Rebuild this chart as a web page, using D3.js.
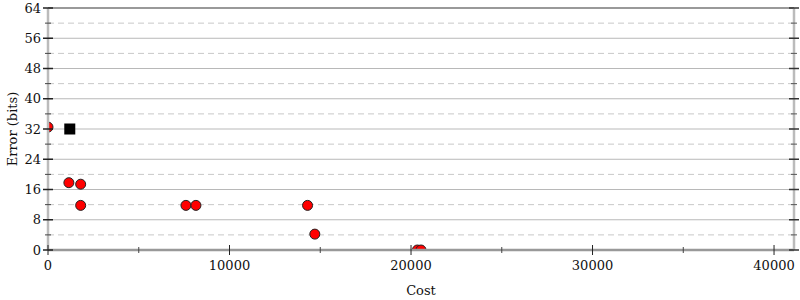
<!DOCTYPE html>
<html>
<head>
<meta charset="utf-8">
<script src="https://cdn.jsdelivr.net/npm/d3@7"></script>
<style>
  body { margin: 0; background: #fff; }
  text { font-family: "DejaVu Serif", serif; }
</style>
</head>
<body>
<div id="chart"></div>
<script>
// data
var costs  = [0, 1150, 1800, 1800, 7600, 8150, 14300, 14700, 20350, 20550];
var errors = [32.5, 17.8, 17.4, 11.8, 11.8, 11.8, 11.8, 4.2, 0, 0];
var targetCost = [1200];
var targetError = [32];
var xTicks = [0, 10000, 20000, 30000, 40000];
var xMinor = [5000, 15000, 25000, 35000];
var yTicks = [0, 8, 16, 24, 32, 40, 48, 56, 64];
var yMinor = [4, 12, 20, 28, 36, 44, 52, 60];

var w = 800, h = 300;
var margin = {top: 8, right: 6, bottom: 50, left: 48};
var iw = w - margin.left - margin.right;
var ih = h - margin.top - margin.bottom;

var x = d3.scaleLinear().domain([0, 41100]).range([0, iw]);
var y = d3.scaleLinear().domain([0, 64]).range([ih, 0]);

var svg = d3.select('#chart').append('svg')
    .attr('width', w)
    .attr('height', h);

var g = svg.append('g')
    .attr('transform', 'translate(' + margin.left + ',' + margin.top + ')');

svg.append('clipPath').attr('id', 'clip')
    .append('rect').attr('x', 0).attr('y', 0).attr('width', iw).attr('height', ih);

// grid
g.selectAll('.minor-grid').data(yMinor).enter().append('line')
    .attr('x1', 0).attr('x2', iw)
    .attr('y1', d => y(d)).attr('y2', d => y(d))
    .attr('stroke', '#c8c8c8').attr('stroke-dasharray', '6,4');

g.selectAll('.major-grid').data(yTicks.filter(d => d > 0 && d < 64)).enter().append('line')
    .attr('x1', 0).attr('x2', iw)
    .attr('y1', d => y(d)).attr('y2', d => y(d))
    .attr('stroke', d => d === 32 ? '#dcdcdc' : '#b8b8b8')
    .attr('stroke-width', d => d === 32 ? 2 : 1);

// frame
g.append('line').attr('x1', 0).attr('x2', iw).attr('y1', 0).attr('y2', 0)
    .attr('stroke', '#999').attr('stroke-width', 2);

// points
var pts = g.append('g').attr('clip-path', 'url(#clip)');
pts.selectAll('circle').data(costs).enter().append('circle')
    .attr('cx', d => x(d))
    .attr('cy', (d, i) => y(errors[i]))
    .attr('r', 5)
    .attr('fill', '#f00')
    .attr('stroke', '#222')
    .attr('stroke-width', 1);

pts.selectAll('rect').data(targetCost).enter().append('rect')
    .attr('x', d => x(d) - 5.5)
    .attr('y', (d, i) => y(targetError[i]) - 5.5)
    .attr('width', 11).attr('height', 11)
    .attr('fill', '#000');

// axes lines
g.append('line').attr('x1', 0).attr('x2', iw).attr('y1', ih).attr('y2', ih)
    .attr('stroke', '#999').attr('stroke-width', 2.5);
g.append('line').attr('x1', 0).attr('x2', 0).attr('y1', 0).attr('y2', ih)
    .attr('stroke', '#bbb').attr('stroke-width', 2.5);
g.append('line').attr('x1', iw).attr('x2', iw).attr('y1', 0).attr('y2', ih)
    .attr('stroke', '#bbb').attr('stroke-width', 2.5);

// y ticks left
g.selectAll('.ytick').data(yTicks).enter().append('line')
    .attr('x1', -5).attr('x2', 5)
    .attr('y1', d => y(d)).attr('y2', d => y(d))
    .attr('stroke', '#222').attr('stroke-width', 1.5);
g.selectAll('.yminor').data(yMinor).enter().append('line')
    .attr('x1', -3).attr('x2', 3)
    .attr('y1', d => y(d)).attr('y2', d => y(d))
    .attr('stroke', '#444').attr('stroke-width', 1);

// y ticks right
g.selectAll('.ytickr').data(yTicks).enter().append('line')
    .attr('x1', iw - 5).attr('x2', iw + 5)
    .attr('y1', d => y(d)).attr('y2', d => y(d))
    .attr('stroke', '#333').attr('stroke-width', 1.5);
g.selectAll('.yminorr').data(yMinor).enter().append('line')
    .attr('x1', iw - 3).attr('x2', iw + 3)
    .attr('y1', d => y(d)).attr('y2', d => y(d))
    .attr('stroke', '#555').attr('stroke-width', 1);

// x ticks
g.selectAll('.xtick').data(xTicks).enter().append('line')
    .attr('x1', d => x(d)).attr('x2', d => x(d))
    .attr('y1', ih - 5).attr('y2', ih + 5)
    .attr('stroke', '#222').attr('stroke-width', 1);
g.selectAll('.xminor').data(xMinor).enter().append('line')
    .attr('x1', d => x(d)).attr('x2', d => x(d))
    .attr('y1', ih - 3).attr('y2', ih + 3)
    .attr('stroke', '#444').attr('stroke-width', 1);

// tick labels
g.selectAll('.ylabel').data(yTicks).enter().append('text')
    .attr('x', -7)
    .attr('y', d => y(d))
    .attr('dy', '0.35em')
    .attr('text-anchor', 'end')
    .attr('font-size', 13)
    .attr('fill', '#111')
    .text(d => d);

g.selectAll('.xlabel').data(xTicks).enter().append('text')
    .attr('x', d => x(d))
    .attr('y', ih + 15)
    .attr('dy', '0.35em')
    .attr('text-anchor', 'middle')
    .attr('font-size', 13)
    .attr('fill', '#111')
    .text(d => d);

// axis titles
svg.append('text')
    .attr('x', margin.left + iw / 2)
    .attr('y', 290)
    .attr('dy', '0.35em')
    .attr('text-anchor', 'middle')
    .attr('font-size', 13)
    .attr('fill', '#111')
    .text('Cost');

svg.append('text')
    .attr('transform', 'translate(12,' + (margin.top + ih / 2) + ') rotate(-90)')
    .attr('dy', '0.35em')
    .attr('text-anchor', 'middle')
    .attr('font-size', 13)
    .attr('fill', '#111')
    .text('Error (bits)');
</script>
</body>
</html>
